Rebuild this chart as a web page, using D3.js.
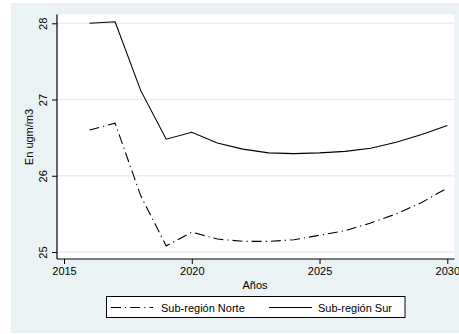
<!DOCTYPE html>
<html><head><meta charset="utf-8">
<script src="https://cdn.jsdelivr.net/npm/d3@7"></script>
<style>body{margin:0;background:#fff}svg{display:block}text{font-family:"Liberation Sans",Arial,sans-serif;fill:#000}</style>
</head><body><svg id="c" width="459" height="334"></svg>
<script>
const years = [2016,2017,2018,2019,2020,2021,2022,2023,2024,2025,2026,2027,2028,2029,2030];
const norte = [26.60,26.69,25.74,25.08,25.26,25.17,25.14,25.14,25.16,25.22,25.28,25.38,25.50,25.65,25.84];
const sur = [28.00,28.02,27.12,26.48,26.57,26.43,26.35,26.30,26.29,26.30,26.32,26.36,26.44,26.54,26.66];
const xTicks = [2015,2020,2025,2030];
const yTicks = [25,26,27,28];
const seriesNames = ["Sub-región Norte","Sub-región Sur"];

const svg = d3.select("#c");
svg.append("rect").attr("x",11).attr("y",3).attr("width",448).attr("height",330).attr("fill","#eaf2f3");
const L=57,R=454.5,T=14.5,B=259;
svg.append("rect").attr("x",L).attr("y",T).attr("width",R-L).attr("height",B-T).attr("fill","#fff");

const x = d3.scaleLinear().domain([2015,2030]).range([64,447.3]);
const y = d3.scaleLinear().domain([25,28]).range([252,23.3]);

// grid
svg.append("g").selectAll("line").data(yTicks).join("line")
  .attr("x1",L).attr("x2",R).attr("y1",d=>y(d)).attr("y2",d=>y(d))
  .attr("stroke","#e6eff1").attr("stroke-width",1.5);

// axes
const ya = svg.append("g").attr("transform",`translate(${L},0)`)
  .call(d3.axisLeft(y).tickValues(yTicks).tickSize(5).tickPadding(4).tickFormat(d3.format("d")));
ya.select(".domain").attr("d",`M0,${T}V${B}`).attr("stroke","#000").attr("stroke-width",1.2);
ya.selectAll(".tick line").attr("stroke","#000");
ya.selectAll(".tick text").attr("font-size",11).attr("font-family","Liberation Sans, Arial, sans-serif")
  .attr("transform","rotate(-90)").attr("x",0).attr("y",-10).attr("dy","0").attr("text-anchor","middle");

const xa = svg.append("g").attr("transform",`translate(0,${B})`)
  .call(d3.axisBottom(x).tickValues(xTicks).tickSize(5).tickPadding(3).tickFormat(d3.format("d")));
xa.select(".domain").attr("d",`M${L},0H${R}`).attr("stroke","#000").attr("stroke-width",1.2);
xa.selectAll(".tick line").attr("stroke","#000");
xa.selectAll(".tick text").attr("font-size",11).attr("font-family","Liberation Sans, Arial, sans-serif");

// titles
svg.append("text").attr("x",255).attr("y",289).attr("text-anchor","middle").attr("font-size",11).text("Años");
svg.append("text").attr("transform",`translate(33,137) rotate(-90)`).attr("text-anchor","middle").attr("font-size",11).text("En ugm/m3");

// lines
const dash = "10,4,1.2,4";
const line = vals => d3.line().x((d,i)=>x(years[i])).y(d=>y(d))(vals);
svg.append("path").attr("d",line(norte)).attr("fill","none").attr("stroke","#000").attr("stroke-width",1.1).attr("stroke-dasharray",dash);
svg.append("path").attr("d",line(sur)).attr("fill","none").attr("stroke","#000").attr("stroke-width",1.1);

// legend
svg.append("rect").attr("x",106.5).attr("y",296.5).attr("width",298.5).attr("height",21).attr("fill","#fff").attr("stroke","#000").attr("stroke-width",1);
const ly=307.5;
svg.append("line").attr("x1",111).attr("x2",153).attr("y1",ly).attr("y2",ly).attr("stroke","#000").attr("stroke-width",1.1).attr("stroke-dasharray",dash);
svg.append("text").attr("x",161).attr("y",ly+4).attr("font-size",11).text(seriesNames[0]);
svg.append("line").attr("x1",269).attr("x2",312).attr("y1",ly).attr("y2",ly).attr("stroke","#000").attr("stroke-width",1.1);
svg.append("text").attr("x",318).attr("y",ly+4).attr("font-size",11).text(seriesNames[1]);
</script></body></html>
